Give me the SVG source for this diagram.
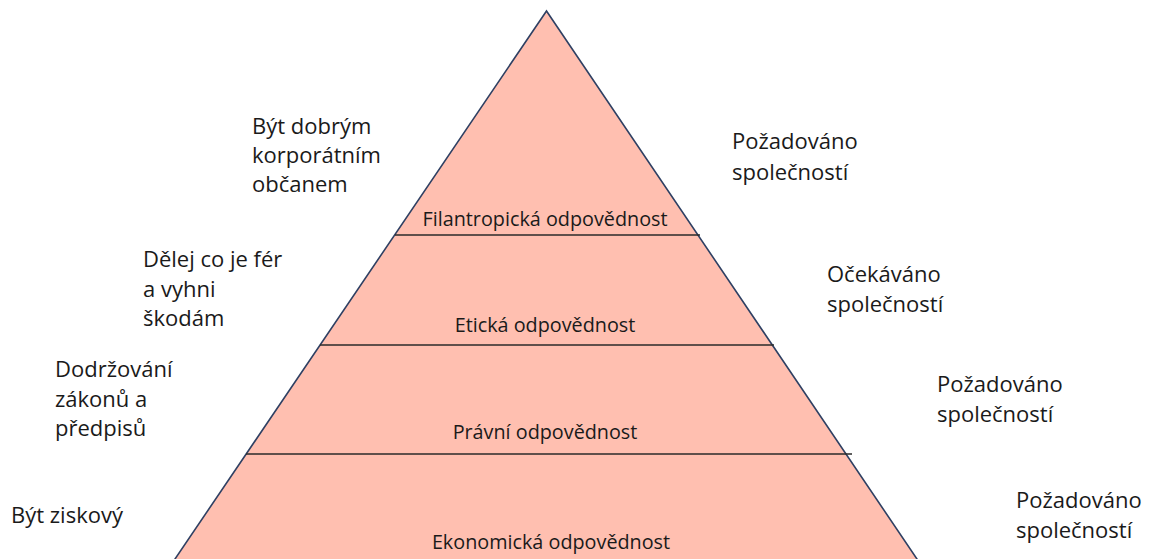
<svg xmlns="http://www.w3.org/2000/svg" width="1149" height="559" viewBox="0 0 1149 559">
  <style>
    .lvl { fill: #FFBFB0; stroke: none; }
    .edge { fill: none; stroke: #2F4063; stroke-width: 1.6; stroke-linejoin: miter; }
    .div { stroke: #2a2a2a; stroke-width: 1.3; }
    .ctr { font-family: "Open Sans", "Liberation Sans", sans-serif; font-size: 19.8px; fill: #1a1a1a; text-anchor: middle; }
    .side { font-family: "Open Sans", "Liberation Sans", sans-serif; font-size: 22px; fill: #1a1a1a; }
  </style>
  <rect width="1149" height="559" fill="#ffffff"/>
  <g id="pyramid">
    <polygon class="lvl" points="546.5,11 147.2,600 944.7,600"/>
    <polyline class="edge" points="147.2,600 546.5,11 944.7,600"/>
  </g>
  <g id="connectors">
    <line class="div" x1="395" y1="235" x2="700" y2="235"/>
    <line class="div" x1="320" y1="345" x2="774" y2="345"/>
    <line class="div" x1="246" y1="454" x2="852" y2="454"/>
  </g>
  <g id="level-filantropicka">
    <text class="ctr" x="545" y="226">Filantropická odpovědnost</text>
  </g>
  <g id="level-eticka">
    <text class="ctr" x="545" y="332">Etická odpovědnost</text>
  </g>
  <g id="level-pravni">
    <text class="ctr" x="545" y="439">Právní odpovědnost</text>
  </g>
  <g id="level-ekonomicka">
    <text class="ctr" x="551" y="549">Ekonomická odpovědnost</text>
  </g>
  <g id="left-1">
    <text class="side" x="252" y="134">Být dobrým</text>
    <text class="side" x="252" y="163">korporátním</text>
    <text class="side" x="252" y="192">občanem</text>
  </g>
  <g id="left-2">
    <text class="side" x="143" y="267">Dělej co je fér</text>
    <text class="side" x="143" y="297">a vyhni</text>
    <text class="side" x="143" y="326">škodám</text>
  </g>
  <g id="left-3">
    <text class="side" x="55" y="377">Dodržování</text>
    <text class="side" x="55" y="407">zákonů a</text>
    <text class="side" x="55" y="436">předpisů</text>
  </g>
  <g id="left-4">
    <text class="side" x="11" y="523">Být ziskový</text>
  </g>
  <g id="right-1">
    <text class="side" x="732" y="149">Požadováno</text>
    <text class="side" x="732" y="180">společností</text>
  </g>
  <g id="right-2">
    <text class="side" x="827" y="282">Očekáváno</text>
    <text class="side" x="827" y="312">společností</text>
  </g>
  <g id="right-3">
    <text class="side" x="937" y="392">Požadováno</text>
    <text class="side" x="937" y="422">společností</text>
  </g>
  <g id="right-4">
    <text class="side" x="1016" y="508">Požadováno</text>
    <text class="side" x="1016" y="538">společností</text>
  </g>
</svg>
